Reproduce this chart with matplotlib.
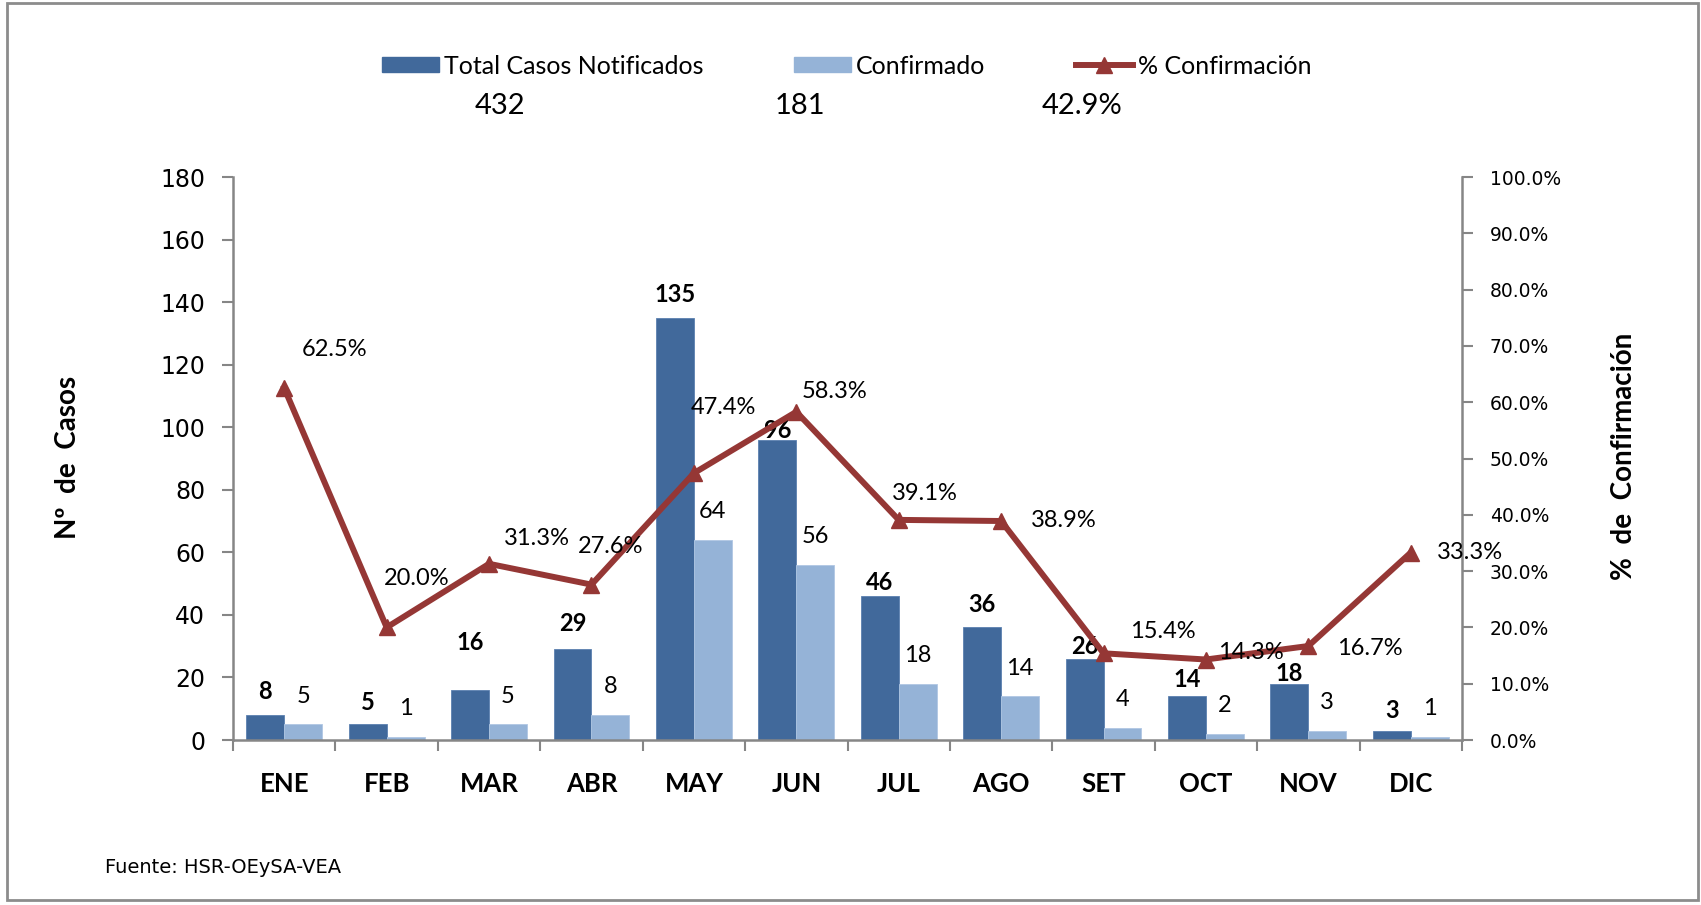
import numpy as np
from matplotlib import pyplot as plt
from matplotlib.patches import Rectangle, Patch
from matplotlib.lines import Line2D

# Data
meses = ['ENE', 'FEB', 'MAR', 'ABR', 'MAY', 'JUN', 'JUL', 'AGO', 'SET', 'OCT', 'NOV', 'DIC']
notificados = [8, 5, 16, 29, 135, 96, 46, 36, 26, 14, 18, 3]
confirmados = [5, 1, 5, 8, 64, 56, 18, 14, 4, 2, 3, 1]
pct_confirm = [62.5, 20.0, 31.3, 27.6, 47.4, 58.3, 39.1, 38.9, 15.4, 14.3, 16.7, 33.3]
totales = ['432', '181', '42.9%']

# Label placement tweaks (pixels), as the labels were moved by hand in the original
dy_notif = [23, 22, 47, 26, 23, 9, 14, 23, 12, 17, 10, 20]
dy_conf = 28
pct_offsets = [(50, 39), (30, 49), (48, 25), (19, 38), (30, 66), (38, 20),
               (26, 26), (63, 1), (59, 22), (45, 7), (61, -3), (59, 0)]

c_dark = '#41699b'
c_light = '#95b3d7'
c_line = '#953735'
c_axis = '#868686'

plt.rcParams['font.family'] = ['Lato', 'DejaVu Sans']

fig = plt.figure(figsize=(17.01, 9.05), dpi=100)
ax = fig.add_axes([0.137, 0.1823, 0.7225, 0.6221])

x = np.arange(len(meses))
w = 0.37
ax.bar(x - w/2, notificados, w, color=c_dark, edgecolor='#5b80b0', linewidth=0.6)
ax.bar(x + w/2, confirmados, w, color=c_light, edgecolor='#b0c7e3', linewidth=0.6)

ax.set_xlim(-0.5, len(meses) - 0.5)
ax.set_ylim(0, 180)
ax.set_yticks(np.arange(0, 181, 20))
ax.tick_params(axis='y', direction='out', length=8, width=1.5, color=c_axis, pad=12,
               labelsize=17, labelfontfamily='DejaVu Sans')

# Category labels without tick marks, tick marks at the category edges
ax.set_xticks(x)
ax.set_xticklabels(meses, fontsize=18.5, fontweight='bold')
ax.set_xticks(np.arange(-0.5, len(meses)), minor=True)
ax.tick_params(axis='x', which='major', length=0, pad=23)
ax.tick_params(axis='x', which='minor', direction='out', length=8, width=1.5, color=c_axis)

for s in ['top', 'right']:
    ax.spines[s].set_visible(False)
for s in ['left', 'bottom']:
    ax.spines[s].set_color(c_axis)
    ax.spines[s].set_linewidth(1.8)

# Bar labels
for i in range(len(meses)):
    ax.annotate(str(notificados[i]), (x[i] - w/2, notificados[i]), xytext=(0, dy_notif[i]),
                textcoords='offset pixels', ha='center', va='center', fontsize=17, fontweight='bold')
    ax.annotate(str(confirmados[i]), (x[i] + w/2, confirmados[i]), xytext=(0, dy_conf),
                textcoords='offset pixels', ha='center', va='center', fontsize=17)

# Percentage line on the secondary axis
ax2 = ax.twinx()
ax2.plot(x, pct_confirm, color=c_line, lw=4.3, marker='^', markersize=11)
ax2.set_ylim(0, 100)
ax2.set_yticks(np.arange(0, 101, 10))
ax2.set_yticklabels(['{:.1f}%'.format(v) for v in np.arange(0, 101, 10)])
ax2.tick_params(axis='y', direction='out', length=8, width=1.5, color=c_axis, pad=12,
                labelsize=13.5, labelfontfamily='DejaVu Sans')
for s in ['top', 'left', 'bottom']:
    ax2.spines[s].set_visible(False)
ax2.spines['right'].set_color(c_axis)
ax2.spines['right'].set_linewidth(1.8)

for i in range(len(meses)):
    ax2.annotate('{:.1f}%'.format(pct_confirm[i]), (x[i], pct_confirm[i]), xytext=pct_offsets[i],
                 textcoords='offset pixels', ha='center', va='center', fontsize=17)

# Axis titles
fig.text(0.040, 0.494, 'Nº  de  Casos', rotation=90, ha='center', va='center',
         fontsize=20, fontweight='bold')
fig.text(0.9547, 0.496, '%  de  Confirmación', rotation=90, ha='center', va='center',
         fontsize=20, fontweight='bold')

# Legend and totals
handles = [Patch(color=c_dark), Patch(color=c_light),
           Line2D([], [], color=c_line, lw=4.3, marker='^', markersize=11)]
fig.legend(handles, ['Total Casos Notificados', 'Confirmado', '% Confirmación'],
           ncol=3, loc='center', bbox_to_anchor=(0.4977, 0.927), frameon=False, fontsize=18,
           handlelength=2.3, handleheight=0.55, handletextpad=0.2, columnspacing=3.6)
for xt, t in zip([0.294, 0.470, 0.636], totales):
    fig.text(xt, 0.883, t, ha='center', va='center', fontsize=21)

fig.text(0.0617, 0.041, 'Fuente: HSR-OEySA-VEA', ha='left', va='center', fontsize=14,
         fontfamily='DejaVu Sans')

# Outer frame
fig.patches.append(Rectangle((0.0041, 0.005), 0.9941, 0.9917, transform=fig.transFigure,
                             fill=False, edgecolor='#8c8c8c', linewidth=2))

fig.savefig('out.png', dpi=100)
